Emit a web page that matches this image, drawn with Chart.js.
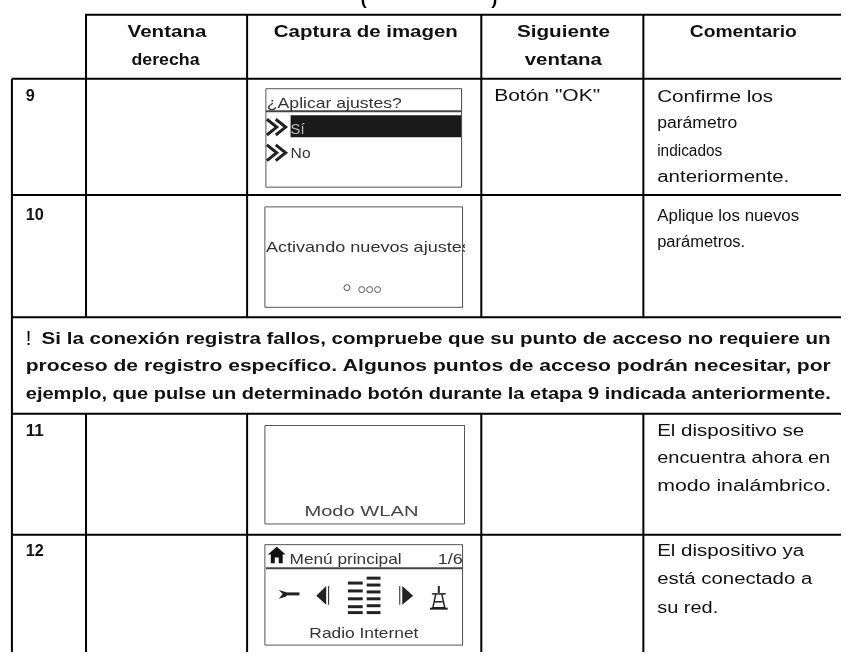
<!DOCTYPE html>
<html><head><meta charset="utf-8">
<style>html,body{margin:0;padding:0;background:#fff}canvas{display:block}</style>
<script src="https://cdn.jsdelivr.net/npm/chart.js@4"></script>
</head><body><canvas id="c" width="846" height="657"></canvas>
<script>
const headers = ["Ventana","derecha","Captura de imagen","Siguiente","ventana","Comentario"];
const steps = ["9","10","11","12"];
const nextWindow = 'Botón "OK"';
const comments = ["Confirme los","parámetro","indicados","anteriormente.","Aplique los nuevos","parámetros.","El dispositivo se","encuentra ahora en","modo inalámbrico.","El dispositivo ya","está conectado a","su red."];
const notice = ["Si la conexión registra fallos, compruebe que su punto de acceso no requiere un","proceso de registro específico. Algunos puntos de acceso podrán necesitar, por","ejemplo, que pulse un determinado botón durante la etapa 9 indicada anteriormente."];
const screens = ["¿Aplicar ajustes?","Sí","No","Activando nuevos ajuste","Modo WLAN","Menú principal","1/6","Radio Internet"];

const ARIAL = '"Liberation Sans", Arial, sans-serif';
const B16 = 'bold 16px '+ARIAL, R16 = '16px '+ARIAL, S = '15px '+ARIAL;
// [text, x, baseline, width, font, colour]
const texts = [
 ["(",360,0,6,B16,"#000"],[")",492,0,6,B16,"#000"],
 [headers[0],124,32,79,B16],[headers[1],128,61,68,B16],[headers[2],272,32,184,B16],
 [headers[3],518,32,93,B16],[headers[4],526,61,77,B16],[headers[5],693,32,107,B16],
 [steps[0],21,97,9,B16],[steps[1],21,218,18,B16],[steps[2],21,438,18,B16],[steps[3],21,560,18,B16],
 [nextWindow,495,97,106,R16],
 [comments[0],660,98,116,R16],[comments[1],660,125,80,R16],[comments[2],660,153,65,R16],[comments[3],660,180,132,R16],
 [comments[4],660,219,142,R16],[comments[5],660,246,88,R16],
 [comments[6],660,438,147,R16],[comments[7],660,465,173,R16],[comments[8],660,494,174,R16],
 [comments[9],660,560,147,R16],[comments[10],660,588,155,R16],[comments[11],660,617,61,R16],
 [notice[0],37,344,789,B16],[notice[1],21,372,805,B16],[notice[2],21,400,805,B16],
 [screens[0],265,105,135,S,"#333"],[screens[1],289,131,14,S,"#bbb"],[screens[2],289,155,20,S,"#333"],
 [screens[4],303,519,114,S,"#444"],[screens[5],288,568,112,S,"#333"],[screens[6],438,568,25,S,"#333"],[screens[7],308,643,109,S,"#333"]
];
const rules = [[81,10,846,10],[7,75,846,75],[7,193,846,193],[7,317,846,317],[7,415,846,415],[7,538,846,538],
 [7,75,7,657],[82,10,82,317],[82,415,82,657],[245,10,245,317],[245,415,245,657],[482,10,482,317],[482,415,482,657],[646,10,646,317],[646,415,646,657]];
const screenBoxes = [[264,85,462,185],[263,205,463,307],[263,427,465,527],[263,548,463,650]];
const screenLines = [[264,108,462,108],[264,572,463,572]];
const selection = [[289,123,462,123]];
const menuBars = [[347,587,362,587],[347,595,362,595],[347,603,362,603],[347,611,362,611],[347,617,362,617],
 [366,582,380,582],[366,589,380,589],[366,596,380,596],[366,603,380,603],[366,610,380,610],[366,617,380,617]];
const dots = [[346,287],[361,289],[369,289],[377,289]];

const seg = (s,c,w)=>({type:'scatter',showLine:true,pointRadius:0,borderColor:c,borderWidth:w,borderCapStyle:'butt',clip:false,
  data:[{x:s[0],y:s[1]},{x:s[2],y:s[3]}]});
const box = (b)=>({type:'scatter',showLine:true,pointRadius:0,borderColor:'#555',borderWidth:1,clip:false,
  data:[{x:b[0],y:b[1]},{x:b[2],y:b[1]},{x:b[2],y:b[3]},{x:b[0],y:b[3]},{x:b[0],y:b[1]}]});
const datasets = [
 ...rules.map(r=>seg(r,'#000',2)),
 ...screenBoxes.map(box),
 ...screenLines.map(r=>seg(r,'#444',2)),
 ...selection.map(r=>seg(r,'#1a1a1a',22)),
 ...menuBars.map(r=>seg(r,'#222',3)),
 {type:'scatter',showLine:false,pointRadius:3,pointStyle:'circle',pointBackgroundColor:'#fff',pointBorderColor:'#555',pointBorderWidth:1,clip:false,
  data:dots.map(d=>({x:d[0],y:d[1]}))}
];

const artwork = {id:'artwork',afterDatasetsDraw(chart){
  const {ctx,scales:{x:X,y:Y}} = chart;
  const px=v=>X.getPixelForValue(v), py=v=>Y.getPixelForValue(v);
  const poly=(pts,fill,lw,col)=>{ctx.beginPath();pts.forEach((p,i)=>i?ctx.lineTo(px(p[0]),py(p[1])):ctx.moveTo(px(p[0]),py(p[1])));
    if(fill){ctx.closePath();ctx.fillStyle=col;ctx.fill();}else{ctx.lineWidth=lw;ctx.strokeStyle=col;ctx.stroke();}};
  ctx.save();
  // clip the truncated line of screen 10 to its box
  ctx.textBaseline='alphabetic';
  for(const [t,x,y,w,f,c] of texts){
    ctx.font=f;ctx.fillStyle=c||'#111';
    const m=ctx.measureText(t).width;
    ctx.save();ctx.translate(px(x),py(y));ctx.scale(w/m,1);ctx.fillText(t,0,0);ctx.restore();
  }
  ctx.save();ctx.beginPath();ctx.rect(px(263),py(205),200,100);ctx.clip();
  ctx.font=S;ctx.fillStyle='#333';
  ctx.translate(px(264),py(251));
  const label=screens[3]+'s';ctx.scale(205/ctx.measureText(label).width,1);ctx.fillText(label,0,0);
  ctx.restore();
  // "!" of the notice
  ctx.font='20px '+ARIAL;ctx.fillStyle='#000';ctx.fillText('!',px(21),py(345));
  // chevrons
  for(const y of [116,142]) for(const dx of [0,9])
    poly([[265+dx,y],[275+dx,y+8],[265+dx,y+16]],false,3,'#222');
  // house
  poly([[275,550],[284,558],[281,558],[281,567],[277,567],[277,561],[273,561],[273,567],[269,567],[269,558],[266,558]],true,0,'#111');
  // wrench
  poly([[284,598],[298,598]],false,3,'#222');
  poly([[277,594],[284,596],[286,598],[284,601],[277,603],[281,598]],true,0,'#222');
  // triangles
  poly([[325,590],[325,609],[315,600]],true,0,'#222');
  poly([[327.5,590],[327.5,609]],false,1,'#222');
  poly([[402,590],[402,609],[413,600]],true,0,'#222');
  poly([[399.5,590],[399.5,609]],false,1,'#222');
  // tower
  poly([[439,590],[439,597]],false,2,'#222');
  poly([[432,598],[446,598]],false,1.5,'#222');
  poly([[436,598],[433,612],[445,612],[442,598]],false,1.5,'#222');
  poly([[430,613],[448,613]],false,2,'#222');
  poly([[435,606],[443,606]],false,1.5,'#222');
  ctx.restore();
}};

new Chart(document.getElementById('c'),{
  type:'scatter',data:{datasets},plugins:[artwork],
  options:{responsive:false,animation:false,layout:{padding:0},
    plugins:{legend:{display:false},tooltip:{enabled:false}},
    scales:{x:{type:'linear',min:0,max:846,display:false},y:{type:'linear',min:0,max:657,reverse:true,display:false}}}
});
</script></body></html>
